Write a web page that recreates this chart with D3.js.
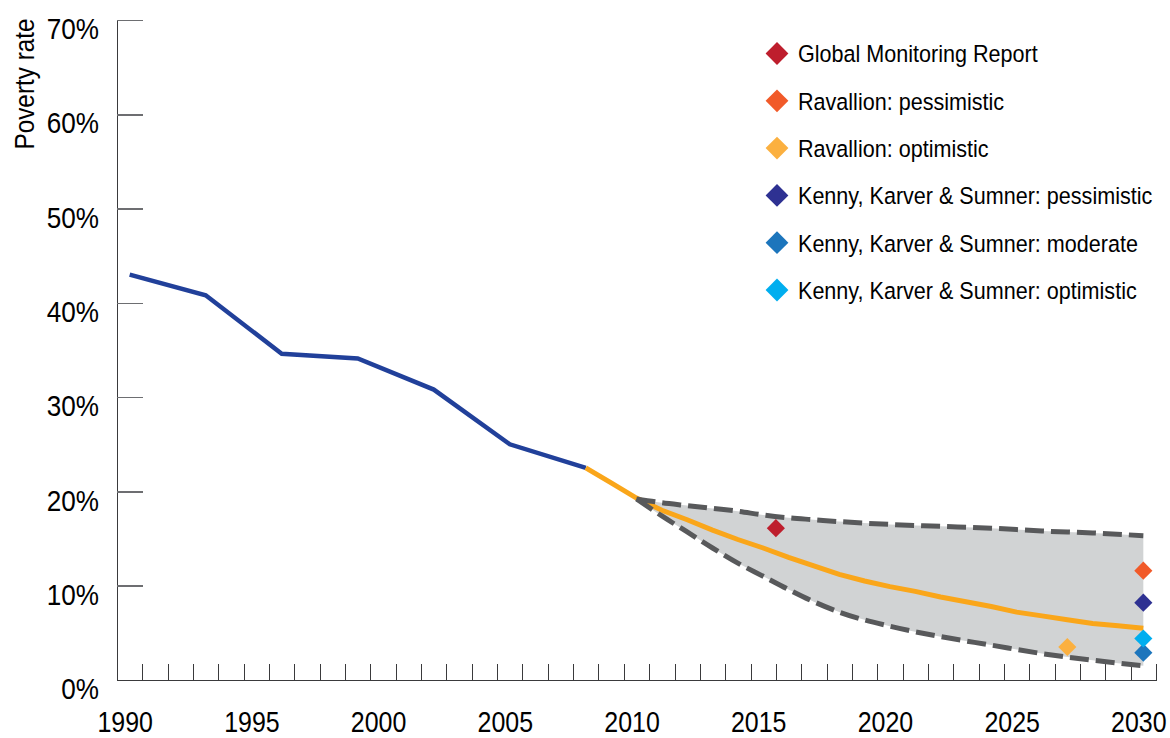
<!DOCTYPE html>
<html>
<head>
  <meta charset="utf-8">
  <style>
    body {
      margin: 0;
      background: #fff;
      font-family: "Liberation Sans", Arial, sans-serif;
    }
    .axis path, .axis line {
      fill: none;
      shape-rendering: crispEdges;
    }
  </style>
</head>
<body>
  <svg width="1170" height="738"></svg>
  <script src="https://d3js.org/d3.v7.min.js"></script>
  <script>

    // historical poverty rate (%)
    var histYears = [1990, 1993, 1996, 1999, 2002, 2005, 2008];
    var histRates = [43.0, 40.8, 34.6, 34.1, 30.8, 25.0, 22.5];

    // central projection (%)
    var projYears = [2008, 2009, 2010, 2011, 2012, 2013, 2014, 2015, 2016, 2017, 2018, 2019,
                     2020, 2021, 2022, 2023, 2024, 2025, 2026, 2027, 2028, 2029, 2030];
    var projRates = [22.5, 20.9, 19.3, 18.0, 17.0, 15.9, 14.9, 14.0, 13.0, 12.1, 11.2, 10.5,
                     9.9, 9.4, 8.8, 8.3, 7.8, 7.2, 6.8, 6.4, 6.0, 5.75, 5.5];

    // projection range (%)
    var rangeYears = [2010, 2011, 2012, 2013, 2014, 2015, 2016, 2017, 2018, 2020, 2022, 2024, 2026, 2028, 2030];
    var rangeHigh  = [19.2, 18.8, 18.5, 18.2, 17.9, 17.5, 17.2, 17.0, 16.8, 16.5, 16.3, 16.1, 15.8, 15.6, 15.3];
    var rangeLow   = [19.2, 17.4, 15.7, 14.0, 12.4, 11.0, 9.6, 8.3, 7.2, 5.7, 4.6, 3.7, 2.8, 2.1, 1.5];

    // individual estimates
    var estNames  = ["Global Monitoring Report", "Ravallion: pessimistic", "Ravallion: optimistic",
                     "Kenny, Karver & Sumner: pessimistic", "Kenny, Karver & Sumner: moderate",
                     "Kenny, Karver & Sumner: optimistic"];
    var estYears  = [2015.5, 2030, 2027, 2030, 2030, 2030];
    var estRates  = [16.1, 11.6, 3.5, 8.2, 2.9, 4.4];
    var estColors = ["#be1e2d", "#f15a29", "#fbb040", "#2e3192", "#1c75bc", "#00aeef"];

    var yearLabels = [1990, 1995, 2000, 2005, 2010, 2015, 2020, 2025, 2030];
    var rateTicks  = [0, 10, 20, 30, 40, 50, 60, 70];

    var svg = d3.select("svg");

    var x = d3.scaleLinear().domain([1989.5, 2030.5]).range([117, 1156]);
    var y = d3.scaleLinear().domain([0, 70]).range([680, 20]);

    // squeeze text to look like a condensed face
    function condense(sel, k) {
      sel.each(function() {
        var w = this.getComputedTextLength();
        d3.select(this).attr("textLength", w * k).attr("lengthAdjust", "spacingAndGlyphs");
      });
    }

    var hist = histYears.map(function(d, i) { return {year: d, v: histRates[i]}; });
    var proj = projYears.map(function(d, i) { return {year: d, v: projRates[i]}; });
    var band = rangeYears.map(function(d, i) { return {year: d, hi: rangeHigh[i], lo: rangeLow[i]}; });

    // shaded range
    svg.append("path")
      .datum(band)
      .attr("fill", "#d1d3d4")
      .attr("d", d3.area()
        .curve(d3.curveMonotoneX)
        .x(function(d) { return x(d.year); })
        .y0(function(d) { return y(d.lo); })
        .y1(function(d) { return y(d.hi); }));

    // x axis: year boundary ticks
    var boundaries = d3.range(1990.5, 2030.6, 1);
    var xAxis = svg.append("g")
      .attr("class", "axis")
      .attr("transform", "translate(0,680)")
      .call(d3.axisBottom(x).tickValues(boundaries).tickSize(-16).tickSizeOuter(0).tickFormat(""));
    xAxis.select(".domain").attr("stroke", "#3a3a3c").attr("stroke-width", 1.5);
    xAxis.selectAll(".tick line").attr("stroke", "#3a3a3c");

    var xLabels = svg.append("g")
      .attr("transform", "translate(0,680)")
      .call(d3.axisBottom(x).tickValues(yearLabels).tickSize(0).tickPadding(0).tickFormat(d3.format("d")));
    xLabels.select(".domain").remove();
    xLabels.selectAll("text")
      .attr("y", 52)
      .attr("dy", 0)
      .attr("dx", -5)
      .attr("fill", "#000")
      .attr("font-family", null)
      .attr("font-size", 29)
      .call(condense, 0.86);

    // y axis
    var yAxis = svg.append("g")
      .attr("class", "axis")
      .attr("transform", "translate(117,0)")
      .call(d3.axisRight(y).tickValues(rateTicks.slice(1)).tickSize(26).tickSizeOuter(0).tickFormat(""));
    yAxis.select(".domain").attr("stroke", "#3a3a3c").attr("stroke-width", 1.5);
    yAxis.selectAll(".tick line").attr("stroke", "#6d6e71").attr("stroke-width", 1.5);

    var yLabels = svg.append("g")
      .attr("transform", "translate(99,0)")
      .call(d3.axisLeft(y).tickValues(rateTicks).tickSize(0).tickPadding(0).tickFormat(function(d) { return d + "%"; }));
    yLabels.select(".domain").remove();
    yLabels.selectAll("text")
      .attr("dy", "0.62em")
      .attr("fill", "#000")
      .attr("font-family", null)
      .attr("font-size", 30)
      .call(condense, 0.87);

    svg.append("text")
      .attr("transform", "translate(34,84) rotate(-90)")
      .attr("text-anchor", "middle")
      .attr("font-size", 27)
      .text("Poverty rate")
      .call(condense, 0.9);

    // lines
    var line = d3.line()
      .x(function(d) { return x(d.year); })
      .y(function(d) { return y(d.v); });

    svg.append("path")
      .datum(hist)
      .attr("fill", "none")
      .attr("stroke", "#21409a")
      .attr("stroke-width", 4.5)
      .attr("d", line);

    svg.append("path")
      .datum(proj)
      .attr("fill", "none")
      .attr("stroke", "#faa61a")
      .attr("stroke-width", 5)
      .attr("d", line);

    var dashed = function(key) {
      return d3.line()
        .curve(d3.curveMonotoneX)
        .x(function(d) { return x(d.year); })
        .y(function(d) { return y(d[key]); });
    };

    ["hi", "lo"].forEach(function(k) {
      svg.append("path")
        .datum(band)
        .attr("fill", "none")
        .attr("stroke", "#58595b")
        .attr("stroke-width", 5)
        .attr("stroke-dasharray", "19,7")
        .attr("d", dashed(k));
    });

    // estimates
    var diamond = function(size) { return d3.symbol().type(d3.symbolSquare).size(size)(); };

    svg.append("g")
      .selectAll("path")
      .data(estNames)
      .enter().append("path")
      .attr("transform", function(d, i) { return "translate(" + x(estYears[i]) + "," + y(estRates[i]) + ") rotate(45)"; })
      .attr("d", diamond(165))
      .attr("fill", function(d, i) { return estColors[i]; });

    // legend
    var legend = svg.append("g")
      .selectAll("g")
      .data(estNames)
      .enter().append("g")
      .attr("transform", function(d, i) { return "translate(777," + (53.5 + i * 47.3) + ")"; });

    legend.append("path")
      .attr("transform", "rotate(45)")
      .attr("d", diamond(260))
      .attr("fill", function(d, i) { return estColors[i]; });

    legend.append("text")
      .attr("x", 21)
      .attr("dy", "0.36em")
      .attr("font-size", 24.5)
      .attr("fill", "#000")
      .text(function(d) { return d; })
      .call(condense, 0.88);

  </script>
</body>
</html>
